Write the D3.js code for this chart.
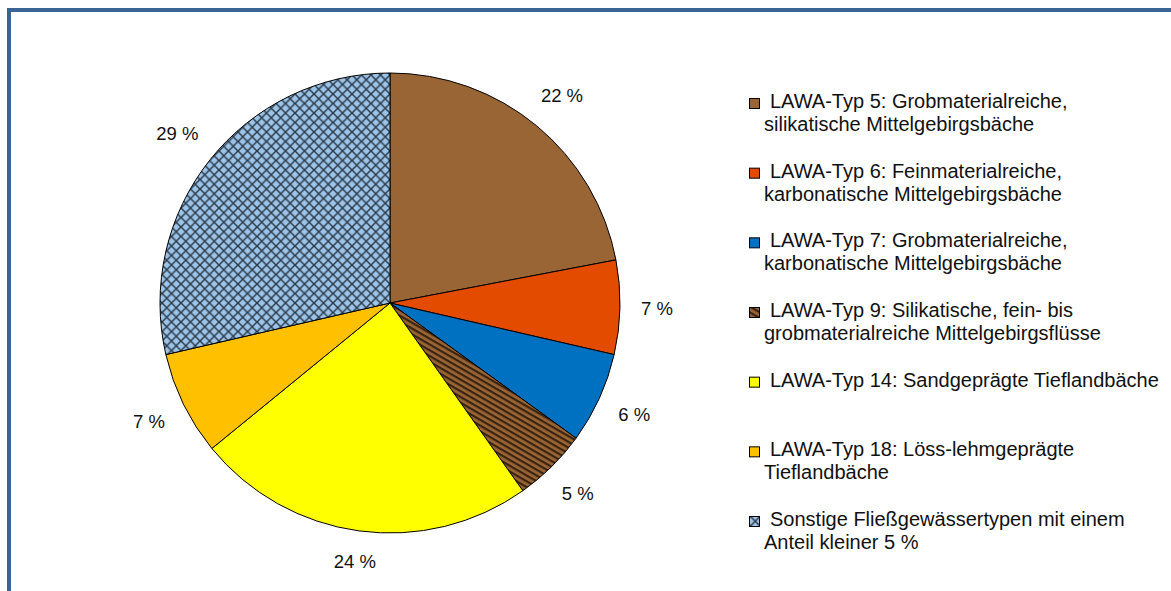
<!DOCTYPE html>
<html>
<head>
<meta charset="utf-8">
<script src="https://cdn.jsdelivr.net/npm/d3@7"></script>
<style>
  html, body { margin: 0; padding: 0; background: #fff; }
  svg { display: block; font-family: 'Liberation Sans', Arial, sans-serif; }
</style>
</head>
<body>
<svg id="chart" width="1171" height="591"></svg>
<script>
// Fließgewässertypen, Anteile in Prozent
const categories = [
  ['LAWA-Typ 5: Grobmaterialreiche,', 'silikatische Mittelgebirgsbäche'],
  ['LAWA-Typ 6: Feinmaterialreiche,', 'karbonatische Mittelgebirgsbäche'],
  ['LAWA-Typ 7: Grobmaterialreiche,', 'karbonatische Mittelgebirgsbäche'],
  ['LAWA-Typ 9: Silikatische, fein- bis', 'grobmaterialreiche Mittelgebirgsflüsse'],
  ['LAWA-Typ 14: Sandgeprägte Tieflandbäche'],
  ['LAWA-Typ 18: Löss-lehmgeprägte', 'Tieflandbäche'],
  ['Sonstige Fließgewässertypen mit einem', 'Anteil kleiner 5 %']
];
const values = [22, 6.6, 6.4, 5.2, 23.9, 7.3, 28.6];
const fills = ['#9a6535', '#e24b00', '#0070c0', 'url(#stripes)', '#ffff00', '#ffc000', 'url(#crosshatch)'];

const svg = d3.select('#chart');

// patterns
const defs = svg.append('defs');
const stripes = defs.append('pattern')
    .attr('id', 'stripes')
    .attr('patternUnits', 'userSpaceOnUse')
    .attr('width', 5)
    .attr('height', 5)
    .attr('patternTransform', 'rotate(30)');
stripes.append('rect')
    .attr('width', 5)
    .attr('height', 5)
    .attr('fill', '#9a6535');
stripes.append('rect')
    .attr('width', 5)
    .attr('height', 2.2)
    .attr('fill', '#3a230f');

const hatch = defs.append('pattern')
    .attr('id', 'crosshatch')
    .attr('patternUnits', 'userSpaceOnUse')
    .attr('width', 9.5)
    .attr('height', 9.5);
hatch.append('rect')
    .attr('width', 9.5)
    .attr('height', 9.5)
    .attr('fill', '#9cc3e8');
hatch.append('path')
    .attr('d', 'M0,0L9.5,9.5M9.5,0L0,9.5')
    .attr('stroke', '#2b3a48')
    .attr('stroke-width', 1.5);

// frame
svg.append('path')
    .attr('d', 'M9,600V10H1180')
    .attr('fill', 'none')
    .attr('stroke', '#3a6496')
    .attr('stroke-width', 4);

// pie
const cx = 390, cy = 303, radius = 230;
const pie = d3.pie().sort(null).value(d => d);
const arc = d3.arc().innerRadius(0).outerRadius(radius);
const arcs = pie(values);

const pieG = svg.append('g')
    .attr('transform', `translate(${cx}, ${cy})`);

pieG.selectAll('path.slice')
  .data(arcs)
  .join('path')
    .attr('class', 'slice')
    .attr('d', arc)
    .attr('fill', (d, i) => fills[i])
    .attr('stroke', '#000')
    .attr('stroke-width', 1);

// percent labels outside
pieG.selectAll('text.pct')
  .data(arcs)
  .join('text')
    .attr('class', 'pct')
    .attr('font-size', 18.5)
    .attr('fill', '#111')
    .attr('text-anchor', 'middle')
    .attr('dy', '0.35em')
    .text(d => `${Math.round(d.value)} %`)
    .each(function (d) {
      const a = (d.startAngle + d.endAngle) / 2;
      const hw = this.getComputedTextLength() / 2;
      const hh = 7;
      const r = radius + 21 + Math.abs(Math.sin(a)) * hw + Math.abs(Math.cos(a)) * hh;
      d3.select(this)
          .attr('x', r * Math.sin(a))
          .attr('y', -r * Math.cos(a));
    });

// legend
const legendY = d3.scaleLinear()
    .domain([0, categories.length - 1])
    .range([108, 526]);

const legend = svg.append('g').attr('class', 'legend');
const items = legend.selectAll('g.item')
  .data(categories)
  .join('g')
    .attr('class', 'item')
    .attr('transform', (d, i) => `translate(0, ${legendY(i)})`);

items.append('rect')
    .attr('x', 749.5)
    .attr('y', -9.5)
    .attr('width', 10)
    .attr('height', 10)
    .attr('fill', (d, i) => fills[i])
    .attr('stroke', '#000')
    .attr('stroke-width', 1);

items.each(function (lines) {
  const g = d3.select(this);
  lines.forEach((line, j) => {
    g.append('text')
        .attr('x', j === 0 ? 770 : 764)
        .attr('y', j * 23)
        .attr('font-size', 20)
        .attr('fill', '#111')
        .text(line);
  });
});
</script>
</body>
</html>
